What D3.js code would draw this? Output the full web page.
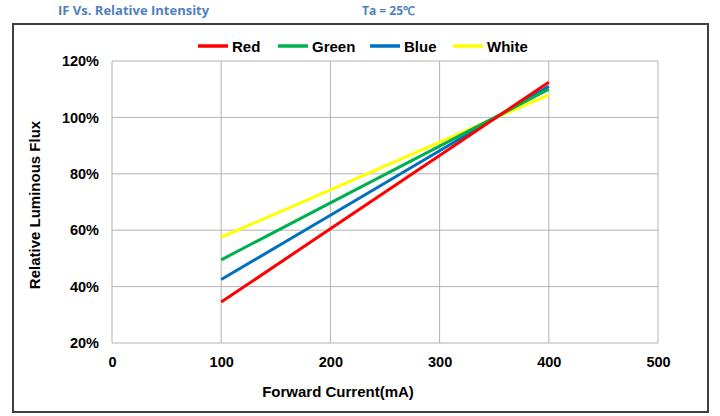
<!DOCTYPE html>
<html><head><meta charset="utf-8">
<script src="https://cdn.jsdelivr.net/npm/d3@7"></script>
<style>body{margin:0;background:#fff}svg{display:block}</style>
</head><body>
<script>
const currents = [100, 200, 300, 400];
const seriesNames = ["Red", "Green", "Blue", "White"];
const redValues = [34.5, 60.5, 86.5, 112.5];
const greenValues = [49.5, 69.7, 89.8, 110];
const blueValues = [42.5, 65.3, 88.2, 111];
const whiteValues = [57.5, 74.3, 91.2, 108];
const xTicks = [0, 100, 200, 300, 400, 500];
const yTicks = [20, 40, 60, 80, 100, 120];
const colors = ["#ff0000", "#00b050", "#0070c0", "#ffff00"];

(function () {
const W = 720, H = 416;
const svg = d3.select("body").append("svg").attr("width", W).attr("height", H);

svg.append("text").attr("x", 58).attr("y", 15)
  .attr("font-family", "'Open Sans', sans-serif").attr("font-weight", "bold")
  .attr("font-size", 13).attr("fill", "#4f81bd").text("IF Vs. Relative Intensity");
svg.append("text").attr("x", 362).attr("y", 15)
  .attr("font-family", "'Open Sans', sans-serif").attr("font-weight", "bold")
  .attr("font-size", 12).attr("fill", "#4f81bd").text("Ta = 25℃");

svg.append("rect").attr("x", 13).attr("y", 24).attr("width", 695).attr("height", 388)
  .attr("fill", "none").attr("stroke", "#404040").attr("stroke-width", 2);

const pL = 112, pR = 658, pT = 61, pB = 343;
const x = d3.scaleLinear().domain([0, 500]).range([pL, pR]);
const y = d3.scaleLinear().domain([20, 120]).range([pB, pT]);

const grid = svg.append("g");
grid.selectAll("line.v").data(xTicks).join("line")
  .attr("x1", d => x(d)).attr("x2", d => x(d)).attr("y1", pT).attr("y2", pB)
  .attr("stroke", "#b3b3b3").attr("stroke-width", 1);
grid.selectAll("line.h").data(yTicks).join("line")
  .attr("x1", pL).attr("x2", pR).attr("y1", d => y(d)).attr("y2", d => y(d))
  .attr("stroke", "#b3b3b3").attr("stroke-width", 1);

const font = "'Liberation Sans', Arial, sans-serif";
const xAxis = svg.append("g").attr("transform", `translate(0,${pB})`)
  .call(d3.axisBottom(x).tickValues(xTicks).tickSize(0).tickPadding(14));
const yAxis = svg.append("g").attr("transform", `translate(${pL},0)`)
  .call(d3.axisLeft(y).tickValues(yTicks).tickFormat(d => d + "%").tickSize(0).tickPadding(13));
[xAxis, yAxis].forEach(a => {
  a.select(".domain").remove();
  a.selectAll("text").attr("font-family", font).attr("font-weight", "bold")
    .attr("font-size", 14.5).attr("fill", "#000");
});

svg.append("text").attr("x", 338).attr("y", 397).attr("text-anchor", "middle")
  .attr("font-family", font).attr("font-weight", "bold").attr("font-size", 15)
  .text("Forward Current(mA)");
svg.append("text").attr("transform", "translate(40,205) rotate(-90)").attr("text-anchor", "middle")
  .attr("font-family", font).attr("font-weight", "bold").attr("font-size", 15)
  .text("Relative Luminous Flux");

const allValues = [redValues, greenValues, blueValues, whiteValues];
const line = d3.line().x((d, i) => x(currents[i])).y(d => y(d));
[3, 2, 1, 0].forEach(k => {
  svg.append("path").datum(allValues[k]).attr("d", line)
    .attr("fill", "none").attr("stroke", colors[k]).attr("stroke-width", 3);
});

const legendX = [198, 278, 370, 453];
seriesNames.forEach((n, i) => {
  svg.append("line").attr("x1", legendX[i]).attr("x2", legendX[i] + 30)
    .attr("y1", 46).attr("y2", 46).attr("stroke", colors[i]).attr("stroke-width", 3.5);
  svg.append("text").attr("x", legendX[i] + 34).attr("y", 51.5)
    .attr("font-family", font).attr("font-weight", "bold").attr("font-size", 15).text(n);
});
})();
</script>
</body></html>
